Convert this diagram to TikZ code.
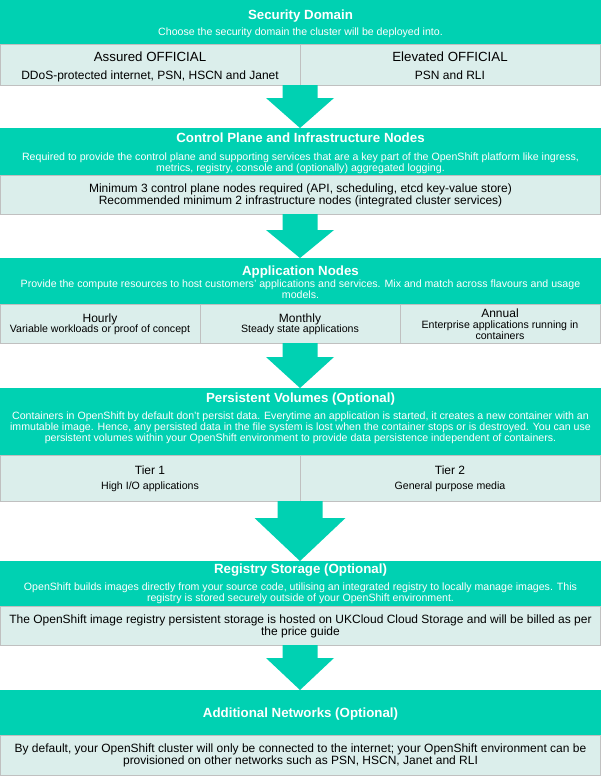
\documentclass[tikz,border=0pt]{standalone}
\usepackage{fontspec}
\setmainfont{Liberation Sans}
\usetikzlibrary{calc}
\definecolor{tealA}{RGB}{0,209,178}
\definecolor{lightA}{RGB}{219,238,235}
\definecolor{edgeA}{RGB}{192,192,192}
\newcommand{\blockarr}[5]{%
  \fill[arr] let \p1=(#1), \p2=(#2) in
    (\x1-#3,\y1) -- (\x1+#3,\y1) -- (\x1+#3,\y2+#5) -- (\x1+#4,\y2+#5) --
    (\x2,\y2) -- (\x1-#4,\y2+#5) -- (\x1-#3,\y2+#5) -- cycle;}
\begin{document}
\begin{tikzpicture}[x=1pt,y=-1pt,
  hdr/.style={fill=tealA, draw=none, inner sep=0, outer sep=0, minimum width=601pt, anchor=north west},
  cell/.style={fill=lightA, draw=edgeA, line width=1pt, inner sep=0, outer sep=0, anchor=north west},
  arr/.style={fill=tealA, draw=none},
  ttl/.style={text=white, font=\fontsize{13.3}{15}\selectfont\bfseries, inner sep=0, anchor=base},
  sub/.style={text=white, font=\fontsize{10.6}{11}\selectfont, inner sep=0, anchor=base},
  big/.style={text=black, font=\fontsize{13.3}{15}\selectfont, inner sep=0, anchor=base},
  mid/.style={text=black, font=\fontsize{12}{13}\selectfont, inner sep=0, anchor=base},
  sml/.style={text=black, font=\fontsize{10.6}{11}\selectfont, inner sep=0, anchor=base},
]
\useasboundingbox (0,0) rectangle (601,776);
\fill[white] (0,0) rectangle (601,776);

% ---------- headers ----------
\node[hdr, minimum height=45pt] (h1) at (0,0) {};
\node[hdr, minimum height=47pt] (h2) at (0,128) {};
\node[hdr, minimum height=46pt] (h3) at (0,258) {};
\node[hdr, minimum height=67pt] (h4) at (0,388) {};
\node[hdr, minimum height=45pt] (h5) at (0,561) {};
\node[hdr, minimum height=45pt] (h6) at (0,690) {};

% ---------- cells ----------
\node[cell, minimum width=299.5pt, minimum height=40pt] (b1a) at (0.5,45) {};
\node[cell, minimum width=300.5pt, minimum height=40pt] (b1b) at (300,45) {};
\node[cell, minimum width=600pt, minimum height=39pt] (b2) at (0.5,175) {};
\node[cell, minimum width=199.5pt, minimum height=39pt] (b3a) at (0.5,304) {};
\node[cell, minimum width=200pt, minimum height=39pt] (b3b) at (200,304) {};
\node[cell, minimum width=200.5pt, minimum height=39pt] (b3c) at (400,304) {};
\node[cell, minimum width=299.5pt, minimum height=46pt] (b4a) at (0.5,455) {};
\node[cell, minimum width=300.5pt, minimum height=46pt] (b4b) at (300,455) {};
\node[cell, minimum width=600pt, minimum height=39pt] (b5) at (0.5,606) {};
\node[cell, minimum width=600pt, minimum height=40.5pt] (b6) at (0.5,735) {};

% ---------- block arrows ----------
\coordinate (a1s) at (300,85);  \coordinate (a2s) at (300,214);
\coordinate (a3s) at (300,343); \coordinate (a4s) at (300,501);
\coordinate (a5s) at (300,645);
\coordinate (a1e) at (300,128); \coordinate (a2e) at (300,258);
\coordinate (a3e) at (300,388); \coordinate (a4e) at (300,561);
\coordinate (a5e) at (300,690);
\blockarr{a1s}{a1e}{17.5pt}{34pt}{30pt}
\blockarr{a2s}{a2e}{17.5pt}{34pt}{28pt}
\blockarr{a3s}{a3e}{17.5pt}{34pt}{31pt}
\blockarr{a4s}{a4e}{22.5pt}{45.5pt}{43pt}
\blockarr{a5s}{a5e}{17.5pt}{34pt}{32pt}

% ---------- texts: Security Domain ----------
\node[ttl] (t1) at (300.5,19.8) {Security Domain};
\node[sub] (s1) at (300.5,35.8) {Choose the security domain the cluster will be deployed into.};
\node[big] (c1a) at (150,61.8) {Assured OFFICIAL};
\node[mid] (d1a) at (150,79.3) {DDoS-protected internet, PSN, HSCN and Janet};
\node[big] (c1b) at (450,61.8) {Elevated OFFICIAL};
\node[mid] (d1b) at (450,79.3) {PSN and RLI};

% ---------- Control Plane ----------
\node[ttl] (t2) at (300.5,142.8) {Control Plane and Infrastructure Nodes};
\node[sub] (s2a) at (300.5,160.8) {Required to provide the control plane and supporting services that are a key part of the OpenShift platform like ingress,};
\node[sub] (s2b) at (300.5,171.8) {metrics, registry, console and (optionally) aggregated logging.};
\node[mid] (c2a) at (300.5,192.3) {Minimum 3 control plane nodes required (API, scheduling, etcd key-value store)};
\node[mid] (c2b) at (300.5,204.3) {Recommended minimum 2 infrastructure nodes (integrated cluster services)};

% ---------- Application Nodes ----------
\node[ttl] (t3) at (300.5,275.8) {Application Nodes};
\node[sub] (s3a) at (300.5,287.3) {Provide the compute resources to host customers' applications and services. Mix and match across flavours and usage};
\node[sub] (s3b) at (300.5,298.3) {models.};
\node[mid] (c3a) at (100,322.3) {Hourly};
\node[sml] (d3a) at (100,332.8) {Variable workloads or proof of concept};
\node[mid] (c3b) at (300,322.3) {Monthly};
\node[sml] (d3b) at (300,332.8) {Steady state applications};
\node[mid] (c3c) at (500,317.3) {Annual};
\node[sml] (d3c) at (500,328.8) {Enterprise applications running in};
\node[sml] (e3c) at (500,339.8) {containers};

% ---------- Persistent Volumes ----------
\node[ttl] (t4) at (300.5,402.8) {Persistent Volumes (Optional)};
\node[sub] (s4a) at (300.5,419.8) {Containers in OpenShift by default don't persist data. Everytime an application is started, it creates a new container with an};
\node[sub] (s4b) at (300.5,430.8) {immutable image. Hence, any persisted data in the file system is lost when the container stops or is destroyed. You can use};
\node[sub] (s4c) at (300.5,441.8) {persistent volumes within your OpenShift environment to provide data persistence independent of containers.};
\node[mid] (c4a) at (150,474.3) {Tier 1};
\node[sml] (d4a) at (150,489.8) {High I/O applications};
\node[mid] (c4b) at (450,474.3) {Tier 2};
\node[sml] (d4b) at (450,489.8) {General purpose media};

% ---------- Registry Storage ----------
\node[ttl] (t5) at (300.5,573.8) {Registry Storage (Optional)};
\node[sub] (s5a) at (300.5,590.8) {OpenShift builds images directly from your source code, utilising an integrated registry to locally manage images. This};
\node[sub] (s5b) at (300.5,601.8) {registry is stored securely outside of your OpenShift environment.};
\node[mid] (c5a) at (300.5,623.3) {The OpenShift image registry persistent storage is hosted on UKCloud Cloud Storage and will be billed as per};
\node[mid] (c5b) at (300.5,635.3) {the price guide};

% ---------- Additional Networks ----------
\node[ttl] (t6) at (300.5,717.8) {Additional Networks (Optional)};
\node[mid] (c6a) at (300.5,752.8) {By default, your OpenShift cluster will only be connected to the internet; your OpenShift environment can be};
\node[mid] (c6b) at (300.5,764.8) {provisioned on other networks such as PSN, HSCN, Janet and RLI};
\end{tikzpicture}
\end{document}
